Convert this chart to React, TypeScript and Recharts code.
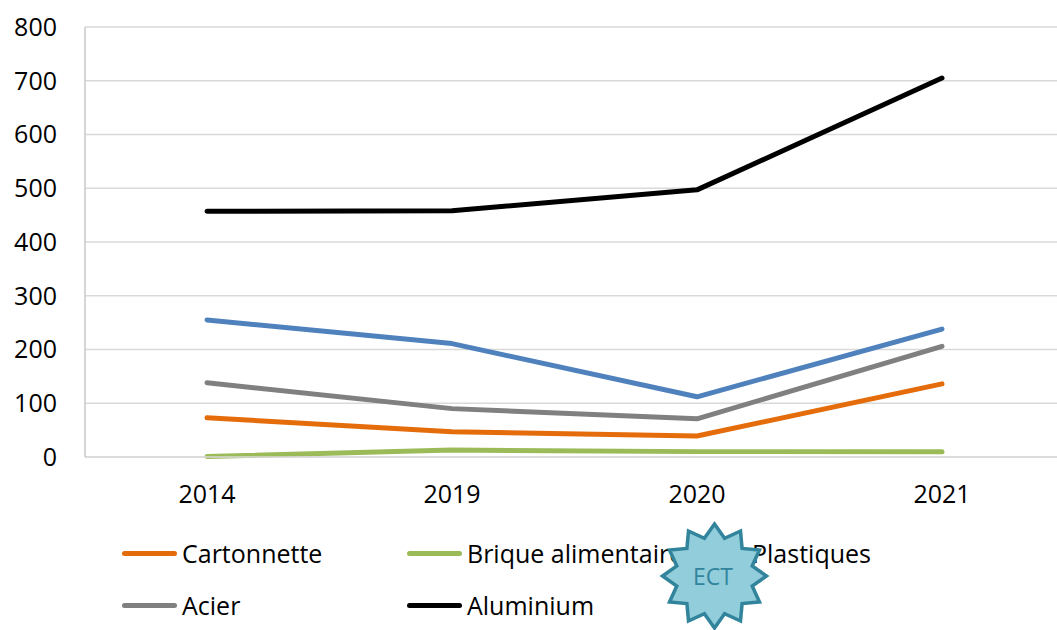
import { CartesianGrid, Line, LineChart, XAxis, YAxis } from "recharts";

const years = ["2014", "2019", "2020", "2021"];
const cartonnette = [73, 47, 39, 136];
const brique = [1, 13, 10, 10];
const plastiques = [255, 211, 112, 238];
const acier = [138, 90, 71, 206];
const aluminium = [457, 458, 497, 705];
const yTicks = [0, 100, 200, 300, 400, 500, 600, 700, 800];

const series = [
  { key: "cartonnette", name: "Cartonnette", color: "#E46C0A", values: cartonnette },
  { key: "brique", name: "Brique alimentaire", color: "#9BBB59", values: brique },
  { key: "plastiques", name: "Plastiques", color: "#4F81BD", values: plastiques },
  { key: "acier", name: "Acier", color: "#808080", values: acier },
  { key: "aluminium", name: "Aluminium", color: "#000000", values: aluminium },
];

const data = years.map((year, i) => {
  const row: Record<string, string | number> = { year };
  series.forEach((s) => {
    row[s.key] = s.values[i];
  });
  return row;
});

const font = "'Open Sans', sans-serif";

function starPoints(cx: number, cy: number, outer: number, inner: number, n: number) {
  const pts: string[] = [];
  for (let i = 0; i < n * 2; i++) {
    const r = i % 2 === 0 ? outer : inner;
    const a = (Math.PI * i) / n - Math.PI / 2;
    pts.push(`${(cx + r * Math.cos(a)).toFixed(1)},${(cy + r * Math.sin(a)).toFixed(1)}`);
  }
  return pts.join(" ");
}

export default function App() {
  return (
    <div
      style={{
        position: "fixed",
        left: 0,
        top: 0,
        width: 1057,
        height: 630,
        overflow: "hidden",
        background: "#fff",
        fontFamily: font,
      }}
    >
      <LineChart width={1064} height={520} data={data} margin={{ top: 27, right: 0, bottom: 0, left: 0 }}>
        <CartesianGrid stroke="#d9d9d9" strokeWidth={1.5} vertical={false} />
        <XAxis
          dataKey="year"
          height={63}
          padding={{ left: 122, right: 122 }}
          tick={{ fontSize: 25, fill: "#000", fontFamily: font }}
          tickLine={false}
          tickSize={0}
          tickMargin={28}
          axisLine={{ stroke: "#d9d9d9", strokeWidth: 1.5 }}
        />
        <YAxis
          width={85}
          domain={[0, 800]}
          ticks={yTicks}
          interval={0}
          tick={{ fontSize: 25, fill: "#000", fontFamily: font }}
          tickLine={false}
          tickSize={0}
          tickMargin={28}
          axisLine={{ stroke: "#c8c8c8", strokeWidth: 1.5 }}
        />
        {series.map((s) => (
          <Line
            key={s.key}
            type="linear"
            dataKey={s.key}
            name={s.name}
            stroke={s.color}
            strokeWidth={5}
            strokeLinecap="round"
            strokeLinejoin="round"
            dot={false}
            activeDot={false}
            isAnimationActive={false}
          />
        ))}
      </LineChart>

      <div style={{ position: "absolute", left: 122, top: 527, width: 900 }}>
        {[series.slice(0, 3), series.slice(3)].map((row, r) => (
          <div key={r} style={{ display: "flex", height: 52, alignItems: "center" }}>
            {row.map((s) => (
              <div key={s.key} style={{ width: 285, display: "flex", alignItems: "center" }}>
                <span
                  style={{
                    display: "inline-block",
                    width: 55,
                    height: 5,
                    borderRadius: 3,
                    background: s.color,
                    marginRight: 5,
                  }}
                />
                <span style={{ fontSize: 25, color: "#000", whiteSpace: "nowrap" }}>{s.name}</span>
              </div>
            ))}
          </div>
        ))}
      </div>

      <svg style={{ position: "absolute", left: 655, top: 517 }} width={120} height={120}>
        <polygon
          points={starPoints(59.5, 59, 52, 39, 12)}
          fill="#92CDDC"
          stroke="#31849B"
          strokeWidth={3.5}
          strokeLinejoin="miter"
        />
        <text
          x={58}
          y={62}
          textAnchor="middle"
          dominantBaseline="middle"
          fontFamily={font}
          fontSize={23}
          fill="#31849B"
        >
          ECT
        </text>
      </svg>
    </div>
  );
}
